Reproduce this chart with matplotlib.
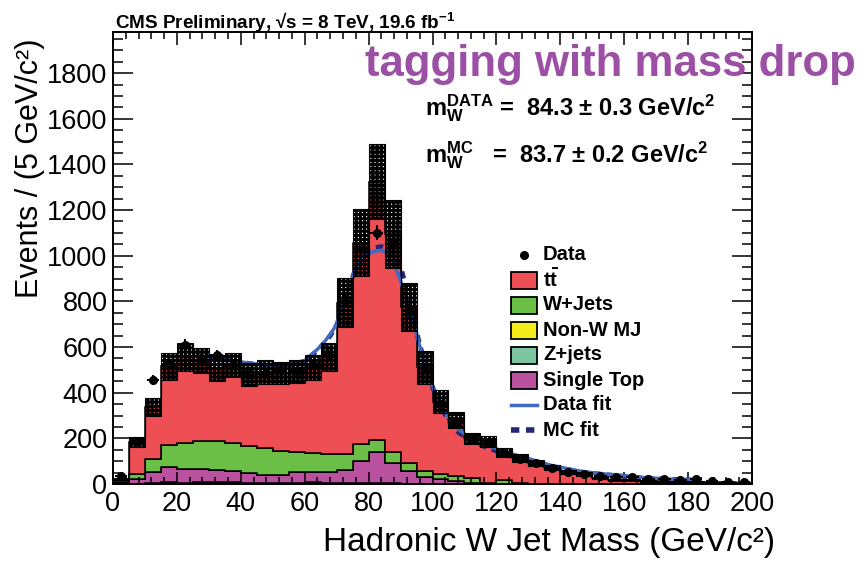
import numpy as np
import matplotlib
matplotlib.use("Agg")
import matplotlib.pyplot as plt
from matplotlib.patches import Rectangle
from matplotlib.lines import Line2D
from matplotlib.ticker import MultipleLocator
from matplotlib.transforms import Affine2D

plt.rcParams['mathtext.fontset'] = 'custom'
plt.rcParams['mathtext.rm'] = 'Liberation Sans:bold'
plt.rcParams['mathtext.bf'] = 'Liberation Sans:bold'
plt.rcParams['mathtext.it'] = 'Liberation Sans:bold:italic'
plt.rcParams['mathtext.sf'] = 'Liberation Sans:bold'
plt.rcParams['hatch.linewidth'] = 2.1

# 5 GeV bins from 0 to 200 GeV
bin_edges = np.arange(0, 201, 5)

ttbar = [12, 139, 230, 344, 375, 352, 320, 342, 312, 334,
         340, 354, 375, 424, 663, 882, 1132, 957, 682, 454,
         318, 244, 172, 182, 120, 111, 90, 70, 51, 43,
         27, 19, 17, 13, 12, 10, 9, 8, 7, 6]
wjets = [6, 24, 57, 98, 117, 124, 127, 120, 120, 118,
         108, 85, 83, 78, 70, 75, 55, 47, 38, 29,
         22, 21, 22, 3, 17, 2, 2, 1, 1, 1,
         0, 0, 0, 0, 0, 0, 0, 0, 0, 0]
nonw_mj = [0, 0, 0, 0, 0, 0, 0, 0, 0, 0,
           0, 0, 0, 0, 0, 0, 0, 0, 0, 0,
           0, 0, 0, 0, 0, 0, 0, 0, 0, 0,
           0, 0, 0, 0, 0, 0, 0, 0, 0, 0]
zjets = [0, 1, 3, 9, 4, 9, 9, 9, 4, 3,
         3, 4, 9, 3, 3, 3, 3, 3, 2, 1,
         1, 1, 0, 0, 0, 0, 0, 0, 0, 0,
         0, 0, 0, 0, 0, 0, 0, 0, 0, 0]
single_top = [4, 19, 48, 64, 60, 55, 52, 49, 43, 35,
              35, 50, 45, 51, 59, 97, 135, 89, 54, 28,
              19, 13, 6, 3, 2, 1, 0, 0, 0, 0,
              0, 0, 0, 0, 0, 0, 0, 0, 0, 0]
mc_syst = [3, 23, 40, 58, 60, 55, 55, 52, 51, 52,
           50, 50, 55, 60, 109, 146, 165, 150, 105, 72,
           50, 35, 25, 24, 20, 17, 14, 11, 9, 7,
           5, 4, 4, 3, 3, 2, 2, 2, 2, 1]
data = [35, 188, 457, 530, 610, 545, 565, 520, 490, 480,
        500, 495, 520, 565, 800, 1030, 1100, 1050, 760, 505,
        350, 270, 200, 180, 135, 110, 90, 70, 52, 44,
        35, 30, 32, 22, 20, 18, 22, 12, 10, 8]

data_fit_x = [29.7, 32, 35, 40, 45, 50, 55, 60, 64, 66, 68, 70, 72, 74, 76, 78,
              80, 82, 84, 86, 88, 90, 92, 94, 96, 98, 100, 102.5, 105.5, 108,
              110.7, 115.9, 121.1, 126.4, 131.6, 136.8, 142, 147.2, 152.4,
              162.9, 173.3, 183.7]
data_fit_y = [562, 556, 548, 535, 525, 520, 523, 540, 590, 620, 655, 700, 780, 870,
              945, 985, 1008, 1020, 1024, 1008, 960, 890, 800, 710, 605, 510, 430,
              350, 280, 240, 213, 177, 148, 126, 105, 83, 68, 54, 46, 32, 22, 17]
mc_fit_x = [29.7, 32, 35, 40, 45, 50, 55, 60, 64, 66, 68, 70, 72, 74, 76, 78,
            80, 82, 84, 86, 88, 90, 91, 92, 94, 96, 98, 100, 102.5, 105.5, 108,
            110.7, 115.9, 121.1, 126.4, 131.6, 136.8, 142, 147.2, 152.4,
            162.9, 173.3, 183.7]
mc_fit_y = [560, 554, 546, 533, 523, 518, 521, 538, 585, 615, 650, 695, 775, 865,
            945, 990, 1020, 1035, 1040, 1030, 1000, 950, 900, 830, 720, 610, 510,
            425, 340, 268, 228, 200, 166, 139, 118, 98, 78, 64, 51, 43, 30, 21, 16]

x_ticks = [0, 20, 40, 60, 80, 100, 120, 140, 160, 180, 200]
y_ticks = [0, 200, 400, 600, 800, 1000, 1200, 1400, 1600, 1800]

C_TT = '#ee4f54'
C_W = '#6cbf46'
C_MJ = '#f2ee1c'
C_Z = '#7ec6a2'
C_ST = '#b9519f'
C_DFIT = '#4469c2'
C_MCFIT = '#262672'
C_TAG = '#9b50a5'
FONT = 'Liberation Sans'

W, H = 866, 563
fig = plt.figure(figsize=(W / 100, H / 100), dpi=100)
ax = fig.add_axes([113 / W, (H - 484) / H, 639 / W, 452 / H])

# stacked MC histograms, bottom to top
components = [(zjets, C_Z), (single_top, C_ST), (nonw_mj, C_MJ),
              (wjets, C_W), (ttbar, C_TT)]
base = np.zeros(len(ttbar))
for vals, col in components:
    top = base + np.asarray(vals, dtype=float)
    ax.stairs(top, bin_edges, baseline=base, fill=True, facecolor=col,
              edgecolor='black', linewidth=1.1, zorder=1)
    base = top
mc_total = base

# fitted W mass shapes
ax.plot(mc_fit_x, mc_fit_y, color=C_MCFIT, lw=3.5, dashes=(1.5, 1.2),
        dash_capstyle='butt', zorder=2)
ax.plot(data_fit_x, data_fit_y, color=C_DFIT, lw=2.5, zorder=2)

# systematic uncertainty band on total MC
err = np.asarray(mc_syst, dtype=float)
ax.stairs(mc_total + err, bin_edges, baseline=mc_total - err, fill=True,
          facecolor='none', edgecolor='black', hatch='++++', linewidth=0.8,
          zorder=3)

# data points
centers = 0.5 * (bin_edges[:-1] + bin_edges[1:])
d = np.asarray(data, dtype=float)
ax.errorbar(centers, d, yerr=np.sqrt(d), xerr=2.0, fmt='o', color='black',
            ms=5.5, elinewidth=1.5, capsize=0, zorder=4)

ax.set_xlim(0, 200)
ax.set_ylim(0, 1980)
ax.set_xticks(x_ticks)
ax.set_yticks(y_ticks)
ax.xaxis.set_minor_locator(MultipleLocator(4))
ax.yaxis.set_minor_locator(MultipleLocator(50))
ax.tick_params(which='both', direction='in', top=True, right=True, width=1.1)
ax.tick_params(axis='y', which='major', length=14.5, pad=4)
ax.tick_params(axis='y', which='minor', length=7.5)
ax.tick_params(axis='x', which='major', length=9, pad=5)
ax.tick_params(axis='x', which='minor', length=5)
for lab in ax.get_xticklabels() + ax.get_yticklabels():
    lab.set_family(FONT)
    lab.set_fontsize(19.5)
for sp in ax.spines.values():
    sp.set_linewidth(1.4)

# pixel coordinates measured from the top-left corner of the figure
PX = Affine2D().scale(0.01, -0.01).translate(0, H / 100) + fig.dpi_scale_trans

fig.text(775, 551, 'Hadronic W Jet Mass (GeV/c²)', transform=PX, ha='right',
         va='baseline', family=FONT, fontsize=24)
fig.text(30, 38, 'Events / (5 GeV/c²)', transform=PX, rotation=90, ha='center',
         va='top', family=FONT, fontsize=22)

fig.text(115, 29, r'CMS Preliminary, √s = 8 TeV, 19.6 fb$^{\mathbf{-1}}$',
         transform=PX, ha='left', va='baseline',
         family=[FONT, 'DejaVu Sans'], weight='bold', fontsize=13.6)
fig.text(365, 76, 'tagging with mass drop', transform=PX, ha='left', va='baseline',
         family=FONT, weight='bold', fontsize=31.5, color=C_TAG)
fig.text(425, 115, r'$\mathrm{m_{W}^{DATA}}$ =  84.3 ± 0.3 GeV/c$^{2}$', transform=PX,
         ha='left', va='baseline', family=FONT, weight='bold', fontsize=17)
fig.text(425, 162, r'$\mathrm{m_{W}^{MC}}$   =  83.7 ± 0.2 GeV/c$^{2}$', transform=PX,
         ha='left', va='baseline', family=FONT, weight='bold', fontsize=17)

# legend
legend_rows = [('marker', None, 'Data'),
               ('box', C_TT, r'$\mathrm{t\bar{t}}$'),
               ('box', C_W, 'W+Jets'),
               ('box', C_MJ, 'Non-W MJ'),
               ('box', C_Z, 'Z+jets'),
               ('box', C_ST, 'Single Top'),
               ('line', C_DFIT, 'Data fit'),
               ('dash', C_MCFIT, 'MC fit')]
for i, (kind, col, label) in enumerate(legend_rows):
    yc = 255 + 25 * i
    if kind == 'marker':
        fig.add_artist(Line2D([524], [yc], transform=PX, marker='o', ms=5.5,
                              color='black', ls='none'))
    elif kind == 'box':
        fig.add_artist(Rectangle((511, yc - 8.5), 26, 17, transform=PX,
                                 facecolor=col, edgecolor='black', lw=1.3))
    elif kind == 'line':
        fig.add_artist(Line2D([511, 537], [yc, yc], transform=PX, color=col, lw=2.5))
    else:
        fig.add_artist(Line2D([511, 537], [yc, yc], transform=PX, color=col, lw=4,
                              dashes=(1.5, 1.2), dash_capstyle='butt'))
    fig.text(543, yc, label, transform=PX, ha='left', va='center',
             family=FONT, weight='bold', fontsize=14.5)

fig.savefig('out.png', dpi=100)
